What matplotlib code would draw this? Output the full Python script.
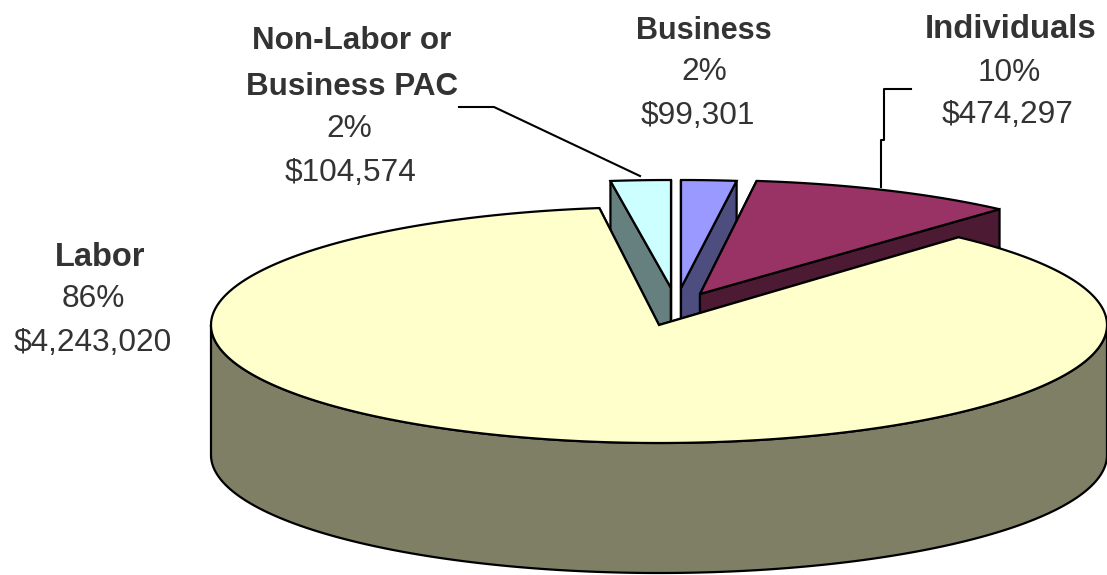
import numpy as np
import matplotlib
matplotlib.use("Agg")
import matplotlib.pyplot as plt
from matplotlib.patches import Polygon

plt.rcParams['font.family'] = ['Liberation Sans', 'DejaVu Sans']

# data
categories = ["Business", "Individuals", "Labor", "Non-Labor or\nBusiness PAC"]
amounts = [99301, 474297, 4243020, 104574]
percent_labels = ["2%", "10%", "86%", "2%"]
amount_labels = ["$99,301", "$474,297", "$4,243,020", "$104,574"]

# styles and layout
top_colors = ["#9999FF", "#993366", "#FFFFCC", "#CCFFFF"]
side_colors = ["#4D4D80", "#4D1A33", "#7F7F66", "#668080"]
apex_x = [681, 700, 659, 671]
apex_y = [288, 294, 325, 288]
radius_x = [440, 448, 448, 455]
radius_y = [108, 114, 118, 108]
DEPTH = 130.0
EDGE = dict(edgecolor="black", linewidth=1.6, joinstyle="miter")

fig = plt.figure(figsize=(11.07, 5.75), dpi=100, facecolor="white")
ax = fig.add_axes([0, 0, 1, 1])
ax.set_xlim(0, 1107)
ax.set_ylim(575, 0)
ax.axis("off")

fractions = np.array(amounts, dtype=float) / sum(amounts)
ends = np.cumsum(fractions) * 2 * np.pi
starts = ends - fractions * 2 * np.pi


def draw_slice(i):
    a0, a1 = starts[i], ends[i]
    center = np.array([apex_x[i], apex_y[i]], dtype=float)

    def pt(theta):
        return np.column_stack([center[0] + radius_x[i] * np.sin(theta),
                                center[1] - radius_y[i] * np.cos(theta)])

    arc = pt(np.linspace(a0, a1, 400))
    down = np.array([0, DEPTH])
    for edge_pt in (arc[0], arc[-1]):
        face = np.array([center, edge_pt, edge_pt + down, center + down])
        ax.add_patch(Polygon(face, closed=True, facecolor=side_colors[i], **EDGE))
    lo, hi = max(a0, np.pi / 2), min(a1, 3 * np.pi / 2)
    if lo < hi:
        rim = pt(np.linspace(lo, hi, 400))
        wall = np.vstack([rim, (rim + down)[::-1]])
        ax.add_patch(Polygon(wall, closed=True, facecolor=side_colors[i], **EDGE))
    top = np.vstack([center, arc])
    ax.add_patch(Polygon(top, closed=True, facecolor=top_colors[i], **EDGE))


for i in (3, 0, 1, 2):
    draw_slice(i)

# leader lines
ax.plot([459, 494, 640], [107, 107, 176], color="black", lw=1.5)
ax.plot([911, 884, 884, 881, 881], [89, 89, 140, 140, 187], color="black", lw=1.5)

# labels
TXT = dict(ha="center", va="center", color="#333333")
name_pos = [(704, 31), (1011, 29), (100, 258), (352, 64)]
name_sizes = [22, 23.7, 23.5, 22.6]
pct_pos = [(704, 72), (1009, 73), (93, 299), (349, 129)]
amt_pos = [(698, 116), (1008, 115), (93, 343), (350, 173)]
for i in range(4):
    ax.text(*name_pos[i], categories[i], fontweight="bold", linespacing=1.66,
            fontsize=name_sizes[i], **TXT)
    ax.text(*pct_pos[i], percent_labels[i], fontsize=22.8, **TXT)
    ax.text(*amt_pos[i], amount_labels[i], fontsize=22.8, **TXT)

fig.savefig("out.png", dpi=100, facecolor="white")
